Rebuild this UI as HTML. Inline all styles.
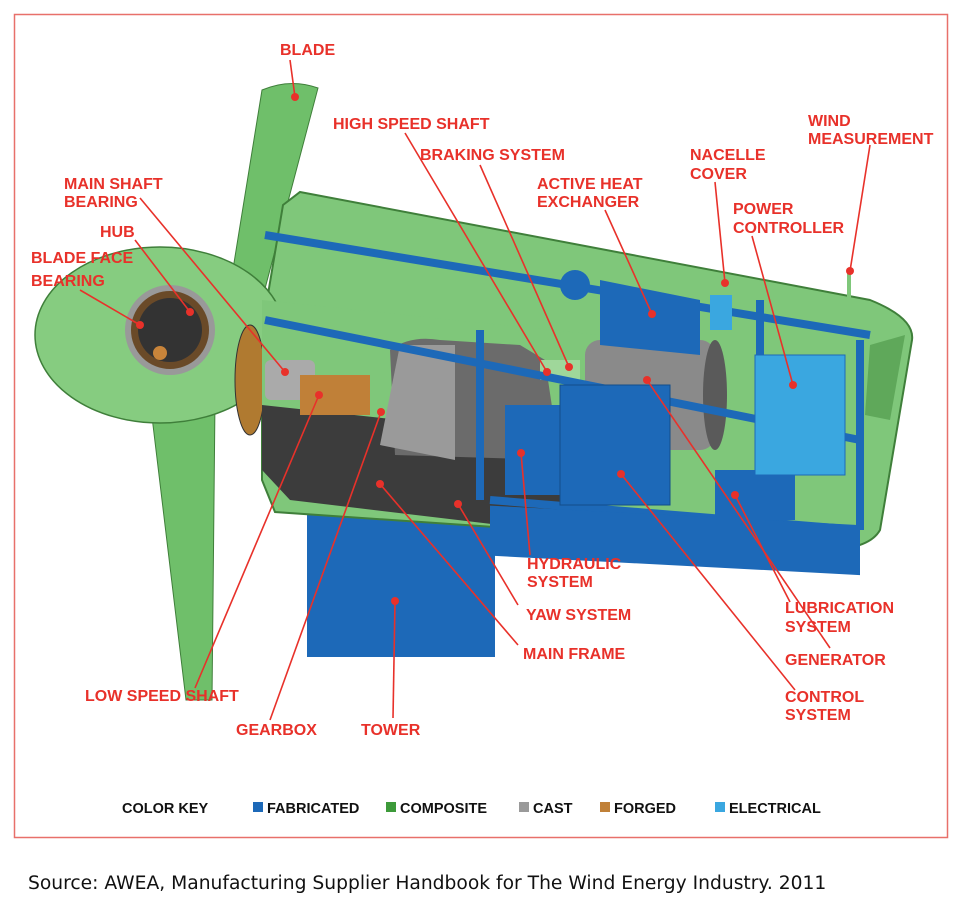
<!DOCTYPE html>
<html><head><meta charset="utf-8"><style>
html,body{margin:0;padding:0;background:#fff;}
body{width:965px;height:909px;position:relative;overflow:hidden;}
svg{position:absolute;left:0;top:0;}
.l{font-family:"Liberation Sans",Arial,sans-serif;font-weight:bold;font-size:16px;fill:#e8312a;}
.k{font-family:"Liberation Sans",Arial,sans-serif;font-weight:bold;font-size:14.5px;fill:#111;}
.src{position:absolute;left:28px;top:873px;font-family:"DejaVu Sans","Liberation Sans",sans-serif;font-size:18.7px;color:#111;white-space:nowrap;}
</style></head><body>
<svg width="965" height="909" viewBox="0 0 965 909">
<rect x="14.5" y="14.5" width="933" height="823" fill="none" stroke="#e8706a" stroke-width="1.5"/>
<path d="M262,90 Q290,78 318,88 L262,300 L228,300 Z" fill="#6fbf6a" stroke="#3f7f3a"/>
<path d="M150,400 L215,400 L212,700 L186,700 Z" fill="#6fbf6a" stroke="#3f7f3a"/>
<rect x="307" y="500" width="188" height="157" fill="#1d69b8"/>
<path d="M300,192 L870,300 Q915,318 912,340 L880,530 Q870,548 830,550 L275,512 L262,480 L262,330 L283,205 Z" fill="#7fc77a" stroke="#3f7f3a" stroke-width="2"/>
<path d="M870,345 L905,335 L890,420 L865,415 Z" fill="#5fa85a"/>
<ellipse cx="160" cy="335" rx="125" ry="88" fill="#86cc80" stroke="#3f7f3a" stroke-width="1.5"/>
<ellipse cx="250" cy="380" rx="15" ry="55" fill="#b07a30" stroke="#333"/>
<circle cx="170" cy="330" r="42" fill="#6a4a28" stroke="#999" stroke-width="6"/>
<circle cx="170" cy="330" r="32" fill="#333"/>
<circle cx="160" cy="353" r="7" fill="#c8843a"/>
<path d="M262,300 L600,335 L600,470 L560,525 L290,505 L262,460 Z" fill="#7fc77a"/>
<path d="M262,405 L400,420 L560,455 L580,515 L500,525 L290,500 L262,470 Z" fill="#3c3c3c"/>
<path d="M390,350 Q410,335 440,340 L520,345 L545,360 L560,460 L395,455 Z" fill="#6b6b6b"/>
<path d="M400,345 L455,345 L455,460 L380,445 Z" fill="#9a9a9a"/>
<rect x="265" y="360" width="50" height="40" fill="#aaa" rx="6"/>
<rect x="300" y="375" width="70" height="40" fill="#c08038"/>
<rect x="540" y="360" width="40" height="20" fill="#9fd79a"/>
<rect x="585" y="340" width="130" height="110" rx="15" fill="#8a8a8a"/>
<ellipse cx="715" cy="395" rx="12" ry="55" fill="#5a5a5a"/>
<g fill="none" stroke="#1d69b8" stroke-width="8">
<path d="M265,235 L870,335"/><path d="M265,320 L860,440"/>
<path d="M480,330 L480,500"/><path d="M860,340 L860,530"/>
<path d="M760,300 L760,440"/><path d="M490,500 L860,530"/>
</g>
<rect x="490" y="480" width="370" height="50" fill="#1d69b8" transform="skewY(3)" />
<rect x="505" y="405" width="60" height="90" fill="#1d69b8"/>
<rect x="560" y="385" width="110" height="120" fill="#1d69b8" stroke="#124d8a"/>
<rect x="715" y="470" width="80" height="50" fill="#1d69b8"/>
<rect x="755" y="355" width="90" height="120" fill="#3aa7e0" stroke="#1d69b8"/>
<path d="M600,280 L700,300 L700,355 L600,345 Z" fill="#1d69b8"/>
<circle cx="575" cy="285" r="15" fill="#1d69b8"/>
<rect x="710" y="295" width="22" height="35" fill="#3aa7e0"/>
<rect x="847" y="270" width="4" height="40" fill="#7fc77a"/>
<g stroke="#e8312a" stroke-width="1.6" fill="none">
<path d="M290,60 L295,97"/><path d="M140,198 L285,372"/><path d="M135,240 L190,312"/>
<path d="M80,290 L140,325"/><path d="M405,133 L547,372"/><path d="M480,165 L569,367"/>
<path d="M605,210 L652,314"/><path d="M715,182 L725,283"/><path d="M870,145 L850,271"/>
<path d="M752,236 L793,385"/><path d="M830,648 L647,380"/><path d="M530,555 L521,453"/>
<path d="M795,690 L621,474"/><path d="M790,602 L735,495"/><path d="M518,605 L458,504"/>
<path d="M518,645 L380,484"/><path d="M270,720 L381,412"/><path d="M195,688 L319,395"/>
<path d="M393,718 L395,601"/>
</g>
<g fill="#e8312a">
<circle cx="295" cy="97" r="4"/><circle cx="285" cy="372" r="4"/><circle cx="190" cy="312" r="4"/>
<circle cx="140" cy="325" r="4"/><circle cx="547" cy="372" r="4"/><circle cx="569" cy="367" r="4"/>
<circle cx="652" cy="314" r="4"/><circle cx="725" cy="283" r="4"/><circle cx="850" cy="271" r="4"/>
<circle cx="793" cy="385" r="4"/><circle cx="647" cy="380" r="4"/><circle cx="521" cy="453" r="4"/>
<circle cx="621" cy="474" r="4"/><circle cx="735" cy="495" r="4"/><circle cx="458" cy="504" r="4"/>
<circle cx="380" cy="484" r="4"/><circle cx="381" cy="412" r="4"/><circle cx="319" cy="395" r="4"/>
<circle cx="395" cy="601" r="4"/>
</g>
<g class="l">
<text x="280" y="55">BLADE</text>
<text x="333" y="129">HIGH SPEED SHAFT</text>
<text x="420" y="160">BRAKING SYSTEM</text>
<text x="537" y="189">ACTIVE HEAT</text><text x="537" y="207">EXCHANGER</text>
<text x="690" y="160">NACELLE</text><text x="690" y="179">COVER</text>
<text x="808" y="126">WIND</text><text x="808" y="144">MEASUREMENT</text>
<text x="733" y="214">POWER</text><text x="733" y="233">CONTROLLER</text>
<text x="64" y="189">MAIN SHAFT</text><text x="64" y="207">BEARING</text>
<text x="100" y="237">HUB</text>
<text x="31" y="263">BLADE FACE</text><text x="31" y="286">BEARING</text>
<text x="527" y="569">HYDRAULIC</text><text x="527" y="587">SYSTEM</text>
<text x="526" y="620">YAW SYSTEM</text>
<text x="523" y="659">MAIN FRAME</text>
<text x="785" y="613">LUBRICATION</text><text x="785" y="632">SYSTEM</text>
<text x="785" y="665">GENERATOR</text>
<text x="785" y="702">CONTROL</text><text x="785" y="720">SYSTEM</text>
<text x="85" y="701">LOW SPEED SHAFT</text>
<text x="236" y="735">GEARBOX</text>
<text x="361" y="735">TOWER</text>
</g>
<text class="k" x="122" y="813">COLOR KEY</text>
<rect x="253" y="802" width="10" height="10" fill="#1d69b8"/><text class="k" x="267" y="813">FABRICATED</text>
<rect x="386" y="802" width="10" height="10" fill="#3d9a3a"/><text class="k" x="400" y="813">COMPOSITE</text>
<rect x="519" y="802" width="10" height="10" fill="#9a9a9a"/><text class="k" x="533" y="813">CAST</text>
<rect x="600" y="802" width="10" height="10" fill="#c08038"/><text class="k" x="614" y="813">FORGED</text>
<rect x="715" y="802" width="10" height="10" fill="#3aa7e0"/><text class="k" x="729" y="813">ELECTRICAL</text>
</svg>
<div class="src">Source: AWEA, Manufacturing Supplier Handbook for The Wind Energy Industry. 2011</div>
</body></html>
